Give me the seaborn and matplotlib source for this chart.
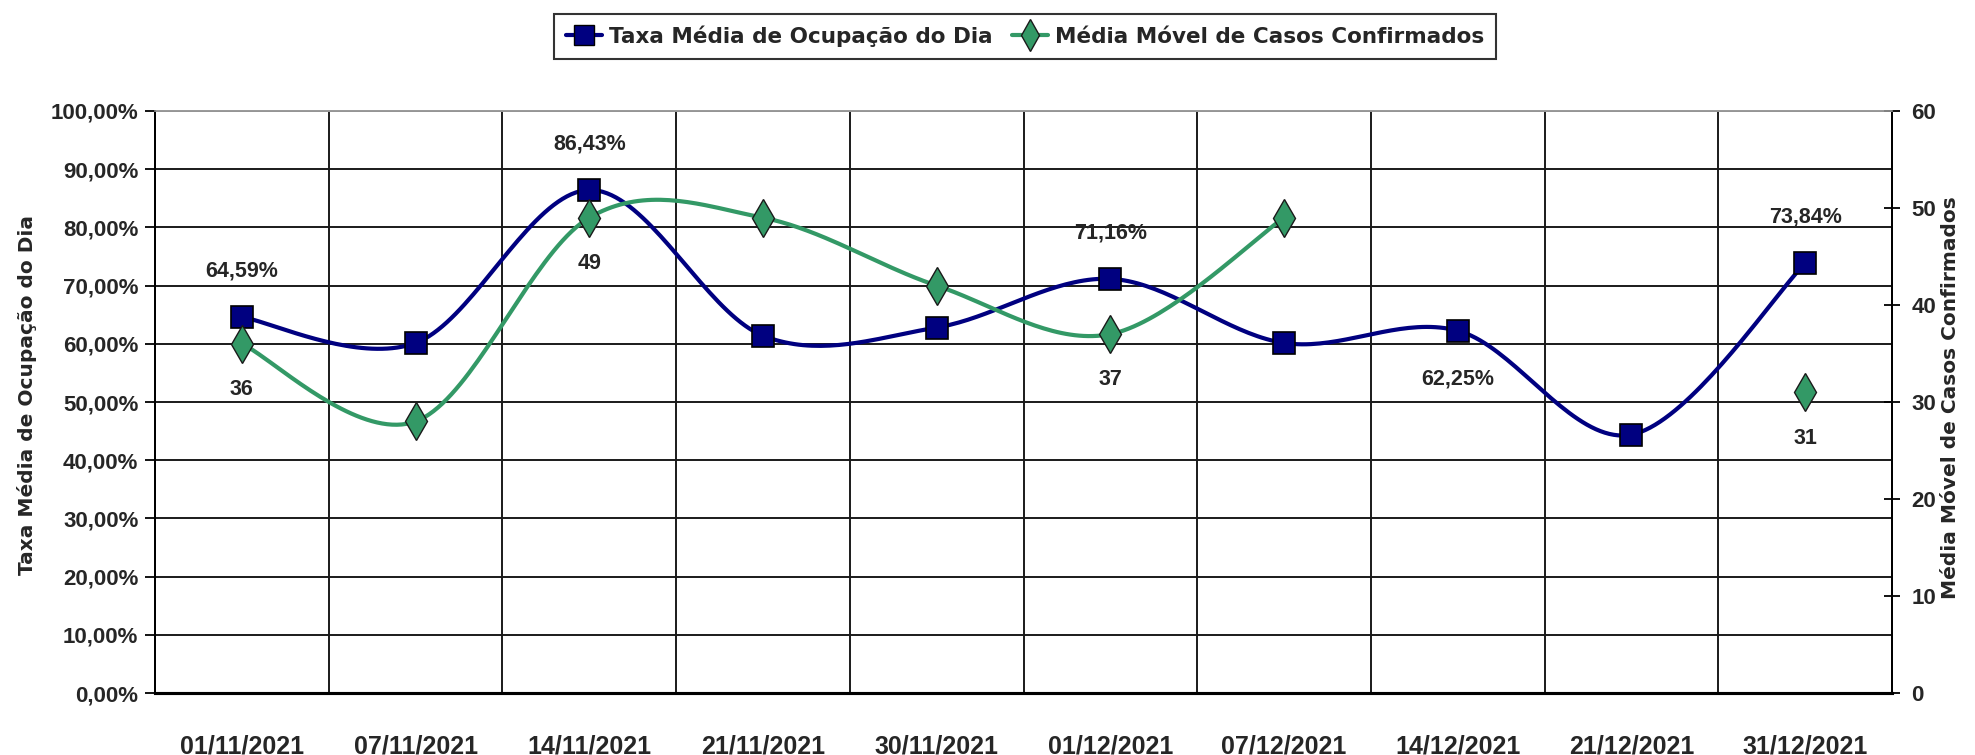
import numpy as np
import pandas as pd
import matplotlib
matplotlib.use("Agg")
import matplotlib.pyplot as plt
import seaborn as sns
from matplotlib.lines import Line2D
from matplotlib.ticker import FixedLocator, FuncFormatter


# 1. Data
datas = ['01/11/2021', '07/11/2021', '14/11/2021', '21/11/2021', '30/11/2021',
         '01/12/2021', '07/12/2021', '14/12/2021', '21/12/2021', '31/12/2021']
taxa_ocupacao = [64.59, 60.15, 86.43, 61.4, 62.8, 71.16, 60.15, 62.25, 44.4, 73.84]
media_movel = [36, 28, 49, 49, 42, 37, 49, np.nan, np.nan, 31]

# which points carry a data label
rotulo_taxa = {0: 'above', 2: 'above', 5: 'above', 7: 'below', 9: 'above'}
rotulo_casos = [0, 2, 5, 9]

AZUL = '#000080'
VERDE = '#339966'


def smooth(xs, ys, n=40):
    # Excel-style smoothed line: cubic bezier through each pair of points
    xs = np.asarray(xs, float)
    ys = np.asarray(ys, float)
    m = len(xs)
    px, py = [], []
    for i in range(m - 1):
        i0, i3 = max(i - 1, 0), min(i + 2, m - 1)
        p0 = np.array([xs[i], ys[i]])
        p3 = np.array([xs[i + 1], ys[i + 1]])
        c1 = p0 + (p3 - np.array([xs[i0], ys[i0]])) / 6
        c2 = p3 - (np.array([xs[i3], ys[i3]]) - p0) / 6
        t = np.linspace(0, 1, n)[:, None]
        pts = ((1 - t) ** 3) * p0 + 3 * ((1 - t) ** 2) * t * c1 \
            + 3 * (1 - t) * t ** 2 * c2 + t ** 3 * p3
        px.extend(pts[:, 0])
        py.extend(pts[:, 1])
    return np.array(px), np.array(py)


def segments(values):
    # split a series on gaps (NaN) into contiguous runs
    runs, cur = [], []
    for i, v in enumerate(values):
        if np.isnan(v):
            if cur:
                runs.append(cur)
            cur = []
        else:
            cur.append(i)
    if cur:
        runs.append(cur)
    return runs


def pct(v, pos=None):
    return f"{v:.2f}".replace('.', ',') + '%'


sns.set_style("white")
plt.rcParams['font.family'] = ['Liberation Sans', 'DejaVu Sans']

fig = plt.figure(figsize=(19.75, 7.55), dpi=100)
ax = fig.add_axes([0.0785, 0.082, 0.8795, 0.771])
ax2 = ax.twinx()

x = np.arange(len(datas))

# 2. Blue series (left axis)
sx, sy = smooth(x, taxa_ocupacao)
sns.lineplot(x=sx, y=sy, ax=ax, color=AZUL, linewidth=3, sort=False,
             estimator=None, zorder=4)
ax.plot(x, taxa_ocupacao, linestyle='none', marker='s', markersize=16,
        markerfacecolor=AZUL, markeredgecolor='black', markeredgewidth=1.2,
        zorder=5)

# 3. Green series (right axis)
mm = np.array(media_movel, float)
for run in segments(mm):
    if len(run) > 1:
        gx, gy = smooth(x[run], mm[run])
        sns.lineplot(x=gx, y=gy, ax=ax2, color=VERDE, linewidth=3, sort=False,
                     estimator=None, zorder=4)
ax2.plot(x, mm, linestyle='none', marker='d', markersize=19,
         markerfacecolor=VERDE, markeredgecolor='#1a1a1a', markeredgewidth=1.0,
         zorder=5)

# 4. Data labels
for i, pos in rotulo_taxa.items():
    off = 33 if pos == 'above' else -35
    ax.annotate(pct(taxa_ocupacao[i]), (x[i], taxa_ocupacao[i]),
                xytext=(0, off), textcoords='offset points', ha='center',
                va='center', fontsize=15.5, fontweight='bold', zorder=6)
for i in rotulo_casos:
    ax2.annotate(f"{int(mm[i])}", (x[i], mm[i]), xytext=(0, -33),
                 textcoords='offset points', ha='center', va='center',
                 fontsize=15.5, fontweight='bold', zorder=6)

# 5. Axes, grid, ticks
ax.set_xlim(-0.5, len(datas) - 0.5)
ax.set_ylim(0, 100)
ax2.set_ylim(0, 60)

ax.xaxis.set_major_locator(FixedLocator(np.arange(-0.5, len(datas))))
ax.xaxis.set_minor_locator(FixedLocator(x))
ax.set_xticklabels([], minor=False)
ax.set_xticklabels(datas, minor=True)
ax.tick_params(axis='x', which='major', direction='out', length=7, width=1.3,
               color='black')
ax.tick_params(axis='x', which='minor', length=0, pad=30, labelsize=18)
for lb in ax.get_xticklabels(minor=True):
    lb.set_fontweight('bold')

ax.set_yticks(np.arange(0, 101, 10))
ax.yaxis.set_major_formatter(FuncFormatter(pct))
ax.tick_params(axis='y', direction='out', length=7, width=1.3, color='black',
               pad=5, labelsize=16)
for lb in ax.get_yticklabels():
    lb.set_fontweight('bold')

ax2.set_yticks(np.arange(0, 61, 10))
ax2.tick_params(axis='y', direction='inout', length=12, width=1.3,
                color='black', pad=8, labelsize=16)
for lb in ax2.get_yticklabels():
    lb.set_fontweight('bold')

ax.grid(True, which='major', axis='both', color='#1a1a1a', linewidth=1.4)
ax.set_axisbelow(True)
ax2.grid(False)

for a in (ax, ax2):
    a.spines['top'].set_color('#999999')
    a.spines['top'].set_linewidth(1.2)
    a.spines['bottom'].set_color('black')
    a.spines['bottom'].set_linewidth(2.2)
    a.spines['left'].set_color('black')
    a.spines['left'].set_linewidth(1.4)
    a.spines['right'].set_color('black')
    a.spines['right'].set_linewidth(1.4)
ax.set_xlabel('')
ax.set_ylabel('')
ax2.set_ylabel('')

fig.text(0.0137, 0.477, 'Taxa Média de Ocupação do Dia', rotation=90,
         ha='center', va='center', fontsize=14.5, fontweight='bold',
         family='DejaVu Sans')
fig.text(0.9875, 0.473, 'Média Móvel de Casos Confirmados', rotation=90,
         ha='center', va='center', fontsize=14.5, fontweight='bold',
         family='DejaVu Sans')

# 6. Legend
handles = [
    Line2D([], [], color=AZUL, linewidth=3, marker='s', markersize=14,
           markerfacecolor=AZUL, markeredgecolor='black'),
    Line2D([], [], color=VERDE, linewidth=3, marker='d', markersize=16,
           markerfacecolor=VERDE, markeredgecolor='#1a1a1a'),
]
leg = fig.legend(handles, ['Taxa Média de Ocupação do Dia',
                           'Média Móvel de Casos Confirmados'],
                 loc='center', bbox_to_anchor=(0.519, 0.952), ncol=2,
                 frameon=True, fancybox=False, handlelength=1.7,
                 handletextpad=0.3, columnspacing=0.9, borderpad=0.55,
                 prop={'family': 'DejaVu Sans', 'weight': 'bold', 'size': 15.5})
leg.get_frame().set_edgecolor('black')
leg.get_frame().set_linewidth(1.5)

fig.savefig('out.png', dpi=100)
